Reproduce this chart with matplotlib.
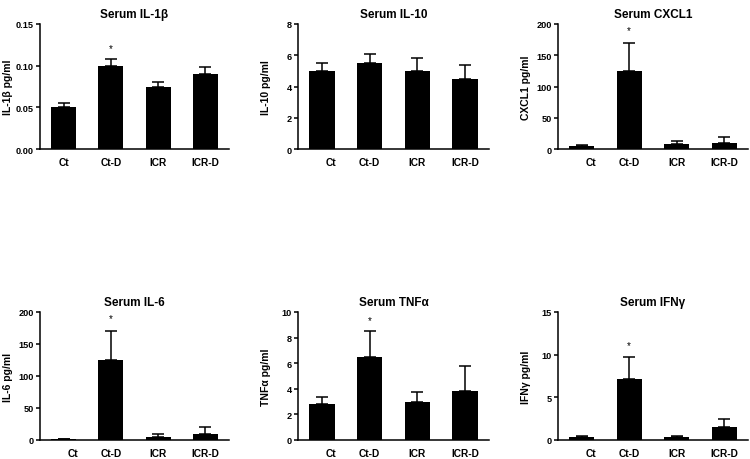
import matplotlib
matplotlib.use("Agg")
import matplotlib.pyplot as plt
import matplotlib.transforms as mtransforms

plt.rcParams['font.family'] = ['Liberation Sans', 'DejaVu Sans']
plt.rcParams['font.weight'] = 'bold'

groups = ["Ct", "Ct-D", "ICR", "ICR-D"]

titles = ["Serum IL-1β", "Serum IL-10", "Serum CXCL1",
          "Serum IL-6", "Serum TNFα", "Serum IFNγ"]
ylabels = ["IL-1β pg/ml", "IL-10 pg/ml", "CXCL1 pg/ml",
           "IL-6 pg/ml", "TNFα pg/ml", "IFNγ pg/ml"]

il1b_mean = [0.050, 0.100, 0.075, 0.090]
il1b_err = [0.005, 0.008, 0.006, 0.009]
il10_mean = [5.0, 5.5, 5.0, 4.5]
il10_err = [0.5, 0.6, 0.8, 0.9]
cxcl1_mean = [5, 125, 8, 9]
cxcl1_err = [1, 45, 5, 10]
il6_mean = [1.5, 125, 5, 10]
il6_err = [0.5, 45, 5, 10]
tnfa_mean = [2.85, 6.5, 3.0, 3.8]
tnfa_err = [0.5, 2.0, 0.75, 2.0]
ifng_mean = [0.3, 7.2, 0.3, 1.5]
ifng_err = [0.15, 2.5, 0.15, 1.0]

means = [il1b_mean, il10_mean, cxcl1_mean, il6_mean, tnfa_mean, ifng_mean]
errs = [il1b_err, il10_err, cxcl1_err, il6_err, tnfa_err, ifng_err]

yticks = [[0, 0.05, 0.10, 0.15], [0, 2, 4, 6, 8], [0, 50, 100, 150, 200],
          [0, 50, 100, 150, 200], [0, 2, 4, 6, 8, 10], [0, 5, 10, 15]]
ytick_fmt = ["{:.2f}", "{:g}", "{:g}", "{:g}", "{:g}", "{:g}"]

# significance star (index of group, y position)
stars = [(1, 0.121), None, (1, 190), (1, 190), (1, 9.4), (1, 11.1)]

# axes boxes in pixels: left, top, right, bottom
W, H = 750, 460
cols = [(40, 229), (298, 489), (558, 748)]
rows = [(25, 150), (313, 441)]

fig = plt.figure(figsize=(7.5, 4.6), dpi=100)

for i in range(6):
    c0, c1 = cols[i % 3]
    r0, r1 = rows[i // 3]
    ax = fig.add_axes([c0 / W, 1 - r1 / H, (c1 - c0) / W, (r1 - r0) / H])
    x = list(range(len(groups)))
    ax.bar(x, means[i], width=0.53, color='black', zorder=2)
    ax.errorbar(x, means[i], yerr=[[0] * 4, errs[i]], fmt='none',
                ecolor='black', elinewidth=1.1, capsize=4.3, capthick=1.1,
                zorder=1)
    ax.set_xlim(-0.5, 3.5)
    ax.set_ylim(0, yticks[i][-1])
    ax.set_yticks(yticks[i])
    ax.set_yticklabels([ytick_fmt[i].format(v) for v in yticks[i]])
    ax.set_xticks(x)
    ax.set_xticklabels(groups)
    ax.tick_params(axis='x', length=0, pad=6, labelsize=7.3)
    ax.tick_params(axis='y', direction='out', length=3, width=1.1,
                   pad=1.5, labelsize=6.6)
    for s in ['top', 'right']:
        ax.spines[s].set_visible(False)
    for s in ['left', 'bottom']:
        ax.spines[s].set_linewidth(1.1)
    ax.set_title(titles[i], fontsize=8.5, fontweight='bold', pad=5)
    ax.set_ylabel(ylabels[i], fontsize=7.5, fontweight='bold', va='center')
    ax.yaxis.set_label_coords(-0.17, 0.5)
    if i > 0:
        lab = ax.get_xticklabels()[0]
        lab.set_transform(lab.get_transform() +
                          mtransforms.ScaledTranslation(9 / 100, 0, fig.dpi_scale_trans))
    if stars[i] is not None:
        gi, yv = stars[i]
        ax.text(gi, yv, "*", ha='center', va='center', fontsize=7,
                fontweight='normal')

fig.savefig("out.png", dpi=100)
